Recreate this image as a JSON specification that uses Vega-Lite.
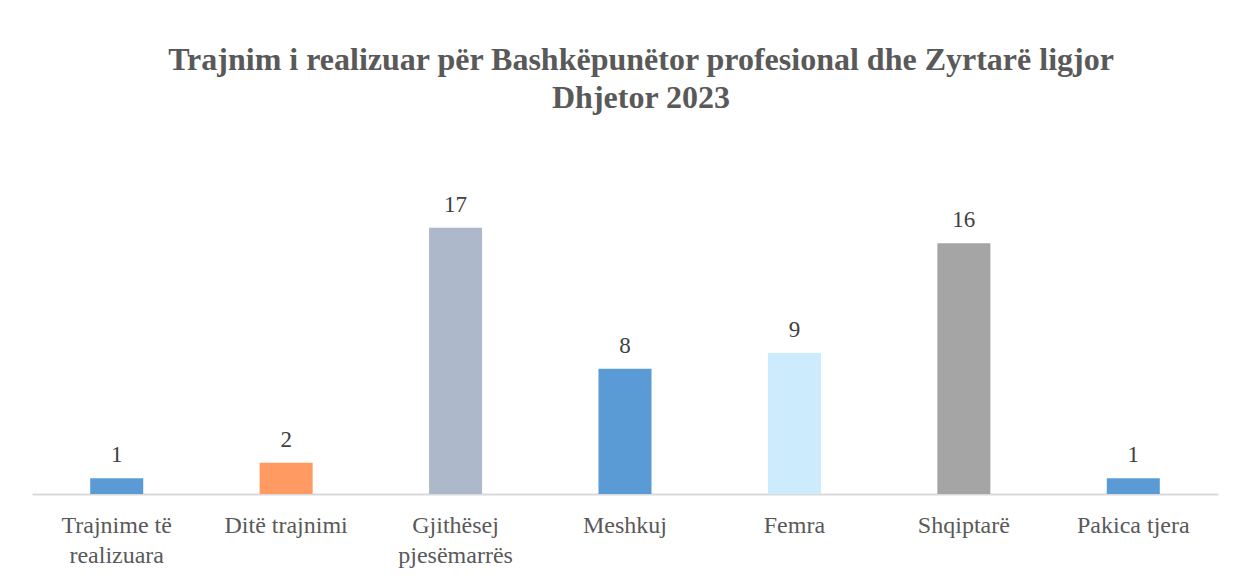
{
  "$schema": "https://vega.github.io/schema/vega-lite/v6.json",
  "autosize": {"type": "none"},
  "width": 1186,
  "height": 282,
  "padding": {"left": 32, "top": 212, "right": 18, "bottom": 84},
  "background": "white",
  "title": {
    "text": ["Trajnim  i realizuar  për Bashkëpunëtor profesional dhe Zyrtarë  ligjor", "Dhjetor 2023"],
    "font": "Liberation Serif",
    "fontSize": 32,
    "fontWeight": "bold",
    "color": "#595959",
    "lineHeight": 38,
    "anchor": "middle",
    "dx": 16,
    "offset": 79
  },
  "data": {
    "values": [
      {"category": "Trajnime të realizuara", "value": 1, "color": "#5B9BD5"},
      {"category": "Ditë trajnimi", "value": 2, "color": "#FF9A62"},
      {"category": "Gjithësej pjesëmarrës", "value": 17, "color": "#ADB9CA"},
      {"category": "Meshkuj", "value": 8, "color": "#5B9BD5"},
      {"category": "Femra", "value": 9, "color": "#CCEBFD"},
      {"category": "Shqiptarë", "value": 16, "color": "#A5A5A5"},
      {"category": "Pakica tjera", "value": 1, "color": "#5B9BD5"}
    ]
  },
  "encoding": {
    "x": {
      "field": "category",
      "type": "nominal",
      "sort": null,
      "scale": {"paddingInner": 0.687, "paddingOuter": 0.3435},
      "axis": {
        "title": null,
        "labelAngle": 0,
        "labelFont": "Liberation Serif",
        "labelFontSize": 24,
        "labelColor": "#595959",
        "labelLineHeight": 30,
        "labelPadding": 38,
        "labelBaseline": "alphabetic",
        "ticks": false,
        "domainColor": "#D9D9D9",
        "domainWidth": 2,
        "labelExpr": "datum.label == 'Trajnime të realizuara' ? ['Trajnime të', 'realizuara'] : datum.label == 'Gjithësej pjesëmarrës' ? ['Gjithësej', 'pjesëmarrës'] : datum.label"
      }
    },
    "y": {
      "field": "value",
      "type": "quantitative",
      "scale": {"domain": [0, 18], "nice": false},
      "axis": null
    }
  },
  "layer": [
    {
      "mark": {"type": "bar"},
      "encoding": {
        "color": {"field": "color", "type": "nominal", "scale": null}
      }
    },
    {
      "mark": {
        "type": "text",
        "baseline": "alphabetic",
        "dy": -16,
        "font": "Liberation Serif",
        "fontSize": 23,
        "color": "#404040"
      },
      "encoding": {
        "text": {"field": "value", "type": "quantitative"}
      }
    }
  ],
  "config": {
    "view": {"stroke": null}
  }
}
